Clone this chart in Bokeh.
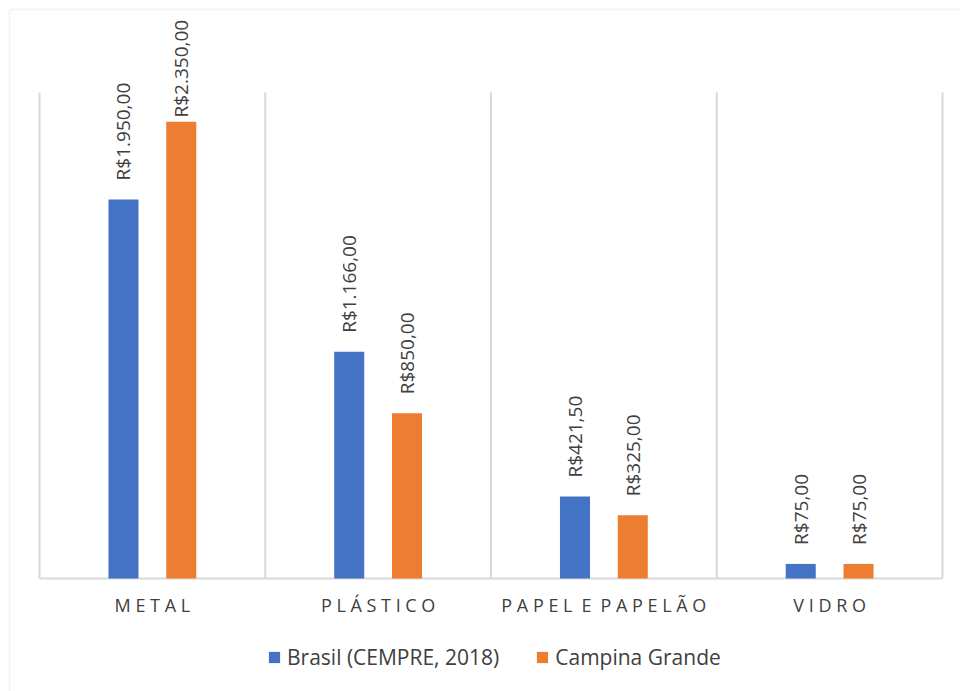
from bokeh.plotting import figure
from bokeh.models import (ColumnDataSource, Range1d, LinearAxis, FixedTicker,
                          LabelSet, Legend, LegendItem, BoxAnnotation)
from bokeh.core.properties import value
from bokeh.embed import file_html
from bokeh.resources import INLINE

# Price per tonne of recyclable material (R$)
categories = ["METAL", "PLÁSTICO", "PAPEL E PAPELÃO", "VIDRO"]
brasil = [1950.0, 1166.0, 421.5, 75.0]
campina = [2350.0, 850.0, 325.0, 75.0]
series_names = ["Brasil (CEMPRE, 2018)", "Campina Grande"]

BLUE = "#4472C4"
ORANGE = "#ED7D31"
GRID = "#D9D9D9"
TEXT = "#404040"
FONT = "Open Sans"

# canvas and plot-area geometry (px)
W, H = 960, 691
AREA_L, AREA_R, AREA_T, AREA_B = 39, 942, 92, 578
Y_MAX = 2500
OFFSET = 0.128
BAR_W = 0.133

n = len(categories)
px_per_cat = (AREA_R - AREA_L) / n
px_per_unit = (AREA_B - AREA_T) / Y_MAX


def brl(v):
    s = f"{v:,.2f}".replace(",", "_").replace(".", ",").replace("_", ".")
    return "R$" + s


def spaced(label):
    # letter-spaced category names
    return "\u2002".join(" ".join(word) for word in label.split(" "))


def label_gaps(vals, texts, gap=19, top_limit=15, char_px=10.2):
    out = []
    for v, t in zip(vals, texts):
        bar_top = AREA_T + (Y_MAX - v) * px_per_unit
        length = len(t) * char_px
        g = gap
        if bar_top - g - length < top_limit:
            g = max(3, bar_top - top_limit - length)
        out.append(g)
    return out


idx = [i + 0.5 for i in range(n)]
b_text = [brl(v) for v in brasil]
c_text = [brl(v) for v in campina]

src = ColumnDataSource(dict(
    xb=[x - OFFSET for x in idx],
    xc=[x + OFFSET for x in idx],
    brasil=brasil,
    campina=campina,
    b_text=b_text,
    c_text=c_text,
    b_gap=label_gaps(brasil, b_text),
    c_gap=label_gaps(campina, c_text),
))

x_range = Range1d(-AREA_L / px_per_cat, (W - AREA_L) / px_per_cat)
y_range = Range1d(-(H - AREA_B) / px_per_unit, Y_MAX + AREA_T / px_per_unit)

p = figure(
    x_range=x_range, y_range=y_range, width=W, height=H,
    output_backend="svg", toolbar_location=None,
    x_axis_location=None, y_axis_location=None,
    min_border=0, background_fill_color="white", border_fill_color="white",
)
p.outline_line_color = None
p.xgrid.visible = False
p.ygrid.visible = False

# category separators and baseline
p.segment(x0=list(range(n + 1)), y0=0, x1=list(range(n + 1)), y1=Y_MAX,
          line_color=GRID, line_width=2)
p.segment(x0=0, y0=0, x1=n, y1=0, line_color=GRID, line_width=2)

r1 = p.vbar(x="xb", top="brasil", width=BAR_W, source=src,
            fill_color=BLUE, line_color=None)
r2 = p.vbar(x="xc", top="campina", width=BAR_W, source=src,
            fill_color=ORANGE, line_color=None)

for xcol, col, txt, gap in (("xb", "brasil", "b_text", "b_gap"),
                            ("xc", "campina", "c_text", "c_gap")):
    p.add_layout(LabelSet(
        x=xcol, y=col, text=txt, y_offset=gap, angle=1.5707963, source=src,
        text_align="left", text_baseline="middle",
        text_font=value(FONT), text_font_size="19px", text_color=TEXT,
    ))

ax = LinearAxis(fixed_location=0, ticker=FixedTicker(ticks=idx))
ax.major_label_overrides = {x: spaced(c) for x, c in zip(idx, categories)}
ax.axis_line_color = None
ax.major_tick_line_color = None
ax.minor_tick_line_color = None
ax.major_label_standoff = 8
ax.major_label_text_font = FONT
ax.major_label_text_font_size = "18px"
ax.major_label_text_color = TEXT
p.add_layout(ax, "below")

legend = Legend(
    items=[LegendItem(label=series_names[0], renderers=[r1]),
           LegendItem(label=series_names[1], renderers=[r2])],
    orientation="horizontal", location=(267, 20),
    glyph_width=14, glyph_height=14, label_standoff=6, spacing=36,
    label_text_font=FONT, label_text_font_size="21px",
    label_text_color=TEXT, border_line_color=None,
    background_fill_alpha=0, padding=0, margin=0,
)
p.add_layout(legend)

# chart border (top and left edges visible)
p.add_layout(BoxAnnotation(
    left=9, right=W + 50, top=H - 9, bottom=-50,
    left_units="screen", right_units="screen",
    top_units="screen", bottom_units="screen",
    fill_color=None, fill_alpha=0, line_color=GRID, line_width=2,
))

open("out.html", "w").write(file_html(p, INLINE))
